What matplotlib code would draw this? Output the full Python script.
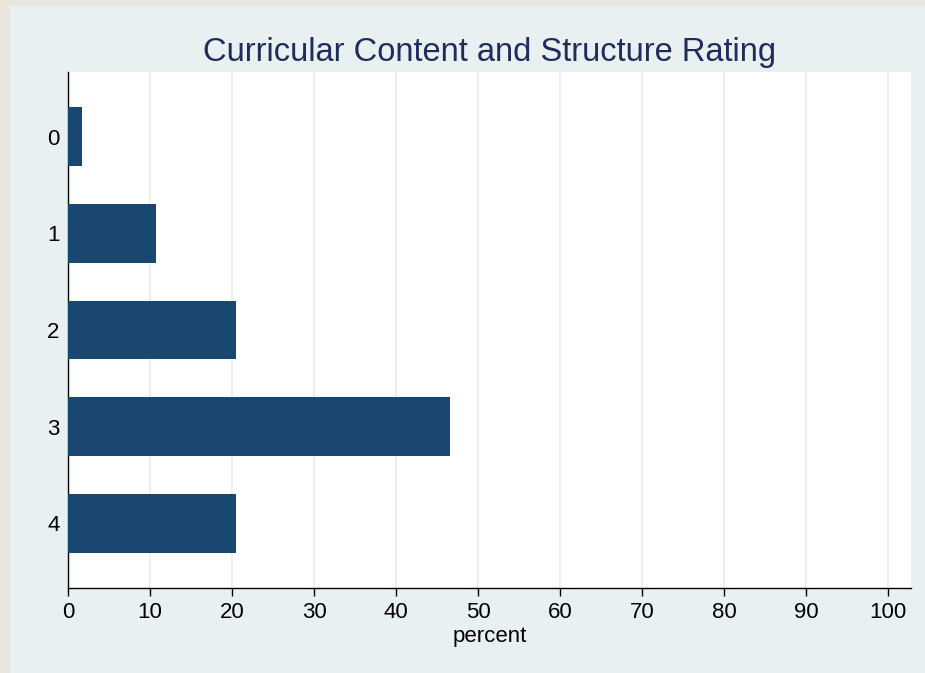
import matplotlib.pyplot as plt
from matplotlib.patches import Rectangle

plt.rcParams['font.family'] = ['Liberation Sans', 'DejaVu Sans']

# data
categories = ["0", "1", "2", "3", "4"]
percent = [1.7, 10.7, 20.5, 46.6, 20.5]
xticks = [0, 10, 20, 30, 40, 50, 60, 70, 80, 90, 100]

navy = "#1a476f"
title_col = "#1e2d5a"
panel = "#e9f0f2"
beige = "#eae6de"

fig = plt.figure(figsize=(9.25, 6.73), dpi=100)
fig.patch.set_facecolor(panel)
# beige frame strips on left and top
fig.patches.append(Rectangle((0, 0), 10 / 925, 1, transform=fig.transFigure,
                             facecolor=beige, edgecolor="none", zorder=-10))
fig.patches.append(Rectangle((0, 1 - 6 / 673), 1, 6 / 673, transform=fig.transFigure,
                             facecolor=beige, edgecolor="none", zorder=-10))

ax = fig.add_axes([68 / 925, 85 / 673, 843 / 925, 516 / 673])
ax.set_facecolor("white")

y = list(range(len(categories)))
ax.barh(y, percent, height=0.61, color=navy, zorder=3)

ax.set_xlim(0, 102.8)
ax.set_ylim(4.67, -0.67)
ax.set_yticks(y)
ax.set_yticklabels(categories)
ax.set_xticks(xticks)
ax.tick_params(axis="y", length=0, labelsize=16, pad=6)
ax.tick_params(axis="x", length=6, width=1, labelsize=16, pad=4)

for x in xticks[1:]:
    ax.axvline(x, color=panel, linewidth=1.5, zorder=1)

for s in ["top", "right"]:
    ax.spines[s].set_visible(False)
ax.spines["left"].set_linewidth(1)
ax.spines["bottom"].set_linewidth(1)

ax.set_xlabel("percent", fontsize=16, labelpad=2)
ax.set_title("Curricular Content and Structure Rating", fontsize=23.5,
             color=title_col, pad=8)

fig.savefig("out.png", dpi=100, facecolor=fig.get_facecolor())
